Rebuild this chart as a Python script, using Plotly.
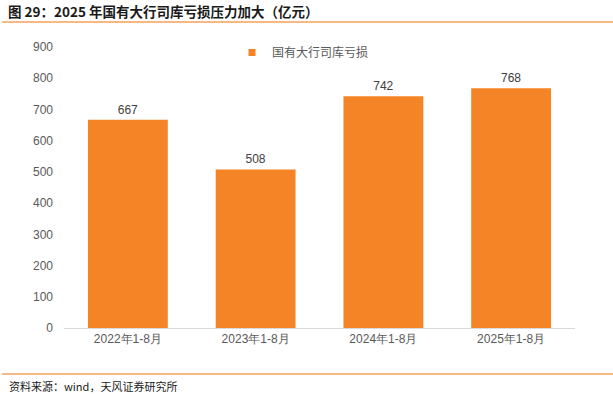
import plotly.graph_objects as go

categories = ["2022年1-8月", "2023年1-8月", "2024年1-8月", "2025年1-8月"]
values = [667, 508, 742, 768]
series_name = "国有大行司库亏损"
title_text = "图 29：2025 年国有大行司库亏损压力加大（亿元）"
source_text = "资料来源：wind，天风证券研究所"

FONT = "Noto Sans CJK SC, Liberation Sans, Arial, sans-serif"
NUMFONT = "Liberation Sans, Arial, sans-serif"
BAR = "#F58426"
LINE = "#F5A05A"

# plot area in pixels
L, R, T, B = 64, 575, 47, 328.5
W, H = R - L, B - T


def px(x):
    return (x - L) / W


def py(y):
    return (B - y) / H


fig = go.Figure()
fig.add_trace(go.Bar(
    x=categories, y=values, name=series_name,
    marker=dict(color=BAR, line=dict(width=0)),
    width=0.625, showlegend=False,
    text=[str(v) for v in values], textposition="outside",
    textfont=dict(size=12, color="#404040", family=NUMFONT),
    cliponaxis=False,
))
# legend entry with a small square swatch
fig.add_trace(go.Scatter(
    x=[None], y=[None], mode="markers", name=series_name,
    marker=dict(symbol="square", size=7, color=BAR),
))

fig.update_layout(
    width=613, height=396,
    margin=dict(l=L, r=613 - R, t=T, b=396 - B, autoexpand=False),
    paper_bgcolor="white", plot_bgcolor="white",
    showlegend=True,
    legend=dict(orientation="h", x=px(232), y=py(38), xanchor="left", yanchor="top",
                font=dict(size=12, color="#595959", family=FONT),
                itemwidth=30, bgcolor="rgba(0,0,0,0)"),
    font=dict(family=FONT),
    xaxis=dict(showline=True, linecolor="#D9D9D9", linewidth=1, ticks="",
               tickfont=dict(size=12, color="#595959", family=NUMFONT),
               showgrid=False),
    yaxis=dict(range=[0, 900], dtick=100, showgrid=False, zeroline=False,
               showline=False, ticks="", ticklabelstandoff=10,
               tickfont=dict(size=12, color="#595959", family=NUMFONT)),
    annotations=[
        dict(text="<b>" + title_text + "</b>", xref="paper", yref="paper",
             x=px(6), y=py(11), xanchor="left", yanchor="middle",
             showarrow=False, font=dict(size=13.5, color="#1a1a1a", family=FONT)),
        dict(text=source_text, xref="paper", yref="paper",
             x=px(7), y=py(387), xanchor="left", yanchor="middle",
             showarrow=False, font=dict(size=11, color="#1a1a1a", family=FONT)),
    ],
    shapes=[
        dict(type="line", xref="paper", yref="paper",
             x0=px(2), x1=px(613), y0=py(22), y1=py(22),
             line=dict(color=LINE, width=1.5)),
        dict(type="line", xref="paper", yref="paper",
             x0=px(2), x1=px(613), y0=py(374.5), y1=py(374.5),
             line=dict(color=LINE, width=1.5)),
    ],
)

fig.write_html("out.html", config={"displayModeBar": False, "staticPlot": True})

# remove the browser's default 8px body margin so the figure fills the window
with open("out.html", encoding="utf-8") as f:
    html = f.read()
html = html.replace("<body>", '<body style="margin:0;padding:0;overflow:hidden">', 1)
with open("out.html", "w", encoding="utf-8") as f:
    f.write(html)
